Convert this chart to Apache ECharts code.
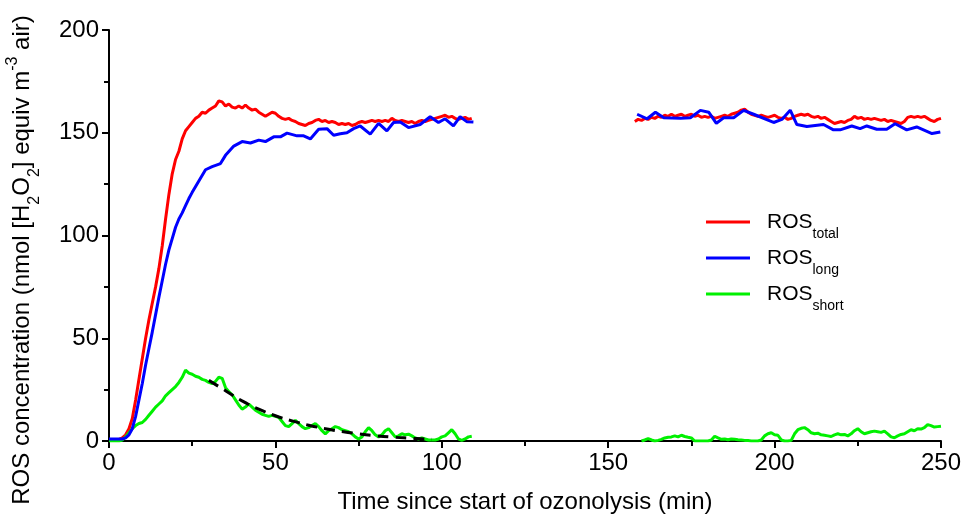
<!DOCTYPE html>
<html><head><meta charset="utf-8">
<script src="https://cdn.jsdelivr.net/npm/echarts@6/dist/echarts.min.js"></script>
<style>html,body{margin:0;padding:0;background:#fff}#c{width:964px;height:519px}</style>
</head><body><div id="c"></div>
<script>
// ---- tick labels ----
const xTicks = [0, 50, 100, 150, 200, 250];
const yTicks = [0, 50, 100, 150, 200];

// ---- ROS_total (1-min sampling) ----
const totalStart1 = 0;
const rosTotal1 = [0.5,0.5,0.5,0.8,1.5,3,6,11,20,30,40,50,59,67,75,84,95,108,120,130,
  137,141,147,151,153,155,157,158,160,159.5,161,162,163,165.5,165,163,164,162.5,162,163,
  162,163.5,162,161,161.5,160,159,158,159,160,159.5,158,157,156.5,157,156,155.5,154.5,154,153.5,
  154.5,155,156,156.5,155.5,156,155,155.5,155,154,154.5,154,154.5,153.5,154,155,155.5,155,155.5,156,
  155.5,156,155.5,156,155.5,157,156,155.5,156,155.5,155,155.5,154.5,155.5,156,155.5,156,156.5,157,157.5,
  158,158.5,157.5,158,157,156.5,157,157.5,156.5,157];
const totalStart2 = 158;
const rosTotal2 = [155.5,156.5,156,157,156.5,157.5,157,158,157.5,158.5,158,159,158,158.5,159,158,158.5,159,158,158.5,
  157.5,158,157.5,158,157,157.5,158,158.5,158,159,159.5,160,161,161.5,160,159,158.5,158,158.5,158,
  157.5,158,158.5,157.5,157,157.5,156.5,157,158,158.5,159,158.5,159,158,157.5,158,157,157.5,156.5,155.5,
  154.5,155,155.5,155,156,156.5,158,157,157.5,156.5,157,156.5,157,156.5,156,156.5,155.5,156,155.5,155,
  154.5,155.5,157.5,158,157.5,158,157.5,158,157,156,155.5,156.5,157];

// ---- ROS_long (coarser sampling) ----
const longTimes1 = [0,2,4,5,6,7,8,9,10,11,12,13,14,15,16,17,18,19,20,21,22,23,24,25,27,29,31,33.5,35,37.5,
  40,42.5,45,47,49.5,51.5,53.5,56.5,58.5,60.5,63,65.5,67.5,69.5,71.5,73.5,75.5,78.5,81,83.5,85.5,87.5,90,93.5,96.5,99,101,103.5,105.5,107.5,109.5];
const rosLong1 = [1,1,1,1.5,3,6,12,20,28,37,45,53,61.5,70,78,86,93,98.5,104,108,111,114.5,118,121,126.5,132,133.5,135,139,143.5,
  145.7,145,146.4,145.7,148,148,149.8,148.5,148.5,147,151.7,152,148.8,149.5,150,152,153.3,149.3,154.6,150.9,155,155.2,152.5,154,157.8,155,156.8,153.3,157.8,155.4,155.2];
const longTimes2 = [158.7,161.7,164.2,166.7,171.7,174.7,177.7,180.2,182.5,184.7,187.7,190.7,193.7,199.7,202.2,204.7,206.7,209.7,214.7,217.7,
  219.7,223.2,225.7,227.7,230.7,233.7,236.2,239.7,242.7,247.3,249.8];
const rosLong2 = [159,156.8,160,157.3,157,157.3,160.9,160,154.6,157.3,157.3,160.9,159,155,156.5,161,154,153,154,151.4,
  151.4,153.3,152,153.3,151.7,151.7,154.4,151.4,152.8,149.6,150.4];

// ---- ROS_short (1-min sampling) ----
const shortStart1 = 0;
const rosShort1 = [0,0,0,0,0.5,2,4,6,7.5,8.5,9,10.5,12.5,14.5,16.5,18,19.5,22,23.5,25,
  26.5,28.5,31,34.5,33,32.5,31.5,31,30,29.5,28.5,28,29,31,30.5,26,24,22.5,20,17.5,
  15.5,16.5,18,16.5,15,14,13,12.5,12,12.5,12,11.5,9.5,7.5,7,8.5,10,8.5,7,6,
  6.5,7.5,8.5,7,5,3.5,5,6,7,6.5,5.5,5,4.5,3.5,2,1,2,4.5,6.5,5,
  3,2,3,5,6,4,2,2.5,3.5,3,3.3,2.5,1.5,1,1.5,1,0.5,0.5,0.5,1,
  2,2.5,4,5.5,3.5,1,0.3,1,2,2.3];
const shortStart2 = 160;
const rosShort2 = [0,0.5,1.2,0.5,0,0.3,0.8,1.5,1.8,2,2.5,2,2.8,2.2,1.8,1.5,0,0,0,0,
  0,0.5,2.3,1.5,0.8,1,0.6,1,0.8,0.6,0.5,0.3,0.2,0,0,0,0.5,2.5,3.5,4,
  3,2.8,0.5,0,0,0.3,3.5,5.5,6.2,6.5,5.5,4,3.5,3.8,3,2.8,2.5,2.2,3,3.5,
  3,3.2,2.5,3.5,5,6,4.5,3.5,4,4.5,4.8,4.5,4.2,4.8,3.5,2,1.6,2.5,3.2,3.5,
  4.5,5.5,5,6,5.8,6.5,8,7.5,6.8,7,7.2];

// ---- decay fit (dashed) ----
const fitTimes = [30,35,40,45,50,55,60,65,70,75,80,85,90,95,97];
const fitShort = [29.5,24.5,19.5,15.5,12.3,9.8,7.7,6,4.6,3.5,2.6,1.9,1.4,1.0,0.9];

function regular(start, vals) { return vals.map((v, i) => [start + i, v]); }
function paired(ts, vals) { return ts.map((t, i) => [t, vals[i]]); }
function joinSeg(a, gapT, b) { return a.concat([[gapT, null]], b); }

const totalData = joinSeg(regular(totalStart1, rosTotal1), 134, regular(totalStart2, rosTotal2));
const longData = joinSeg(paired(longTimes1, rosLong1), 134, paired(longTimes2, rosLong2));
const shortData = joinSeg(regular(shortStart1, rosShort1), 134, regular(shortStart2, rosShort2));
const fitData = paired(fitTimes, fitShort);

const FONT = 'Liberation Sans, Arial, Helvetica, sans-serif';
const chart = echarts.init(document.getElementById('c'), null, {renderer: 'canvas'});

const legendRich = {
  m: {fontSize: 21, fontFamily: FONT, color: '#000', lineHeight: 26, verticalAlign: 'middle', padding: [0, 0, 0, 12]},
  s: {fontSize: 14, fontFamily: FONT, color: '#000', lineHeight: 26, verticalAlign: 'bottom', padding: [0, 0, -6, 0]}
};
const legendSubs = {'ROS_total': 'total', 'ROS_long': 'long', 'ROS_short': 'short'};

function axisCommon(ticks) {
  return {
    axisLine: {show: true, onZero: false, lineStyle: {color: '#000', width: 2}},
    axisTick: {show: true, inside: false, length: 7, lineStyle: {color: '#000', width: 2}},
    minorTick: {show: true, splitNumber: 2, length: 5, lineStyle: {color: '#000', width: 2}},
    splitLine: {show: false},
    minorSplitLine: {show: false},
    axisLabel: {fontSize: 24, fontFamily: FONT, color: '#000', margin: 10,
      formatter: v => (ticks.indexOf(v) >= 0 ? String(v) : '')}
  };
}

chart.setOption({
  animation: false,
  backgroundColor: '#fff',
  grid: {left: 109, right: 23, top: 30, bottom: 75, containLabel: false},
  xAxis: Object.assign(axisCommon(xTicks), {
    type: 'value', min: 0, max: 250, interval: 50,
    name: 'Time since start of ozonolysis (min)', nameLocation: 'middle', nameGap: 49,
    nameTextStyle: {fontSize: 24, fontFamily: FONT, color: '#000'}
  }),
  yAxis: Object.assign(axisCommon(yTicks), {
    type: 'value', min: 0, max: 200, interval: 50
  }),
  legend: {
    orient: 'vertical', left: 701, top: 204, itemWidth: 44, itemHeight: 3, itemGap: 4,
    icon: 'rect',
    selectedMode: false,
    data: ['ROS_total', 'ROS_long', 'ROS_short'],
    formatter: name => '{m|ROS}{s|' + legendSubs[name] + '}',
    textStyle: {rich: legendRich, lineHeight: 26}
  },
  graphic: [{
    type: 'text', x: 22, y: 260, rotation: Math.PI / 2,
    style: {
      text: '{m|ROS concentration (nmol [H}{s|2}{m|O}{s|2}{m|] equiv m}{u|-3}{m| air)}',
      align: 'center', verticalAlign: 'middle',
      rich: {
        m: {fontSize: 24, fontFamily: FONT, fill: '#000', lineHeight: 30},
        s: {fontSize: 16, fontFamily: FONT, fill: '#000', lineHeight: 30, verticalAlign: 'bottom', padding: [0,0,-6,0]},
        u: {fontSize: 16, fontFamily: FONT, fill: '#000', lineHeight: 30, verticalAlign: 'top', padding: [-2,0,0,0]}
      }
    }
  }],
  series: [
    {name: 'ROS_total', type: 'line', data: totalData, symbol: 'none', connectNulls: false,
      lineStyle: {color: '#ff0000', width: 3}, itemStyle: {color: '#ff0000'}, z: 3},
    {name: 'ROS_long', type: 'line', data: longData, symbol: 'none', connectNulls: false,
      lineStyle: {color: '#0000ff', width: 3}, itemStyle: {color: '#0000ff'}, z: 4},
    {name: 'ROS_short', type: 'line', data: shortData, symbol: 'none', connectNulls: false,
      lineStyle: {color: '#00f000', width: 3}, itemStyle: {color: '#00f000'}, z: 3},
    {name: 'fit', type: 'line', data: fitData, symbol: 'none', smooth: true,
      lineStyle: {color: '#000', width: 3, type: [11, 7]}, itemStyle: {color: '#000'}, z: 5}
  ]
});
</script></body></html>
